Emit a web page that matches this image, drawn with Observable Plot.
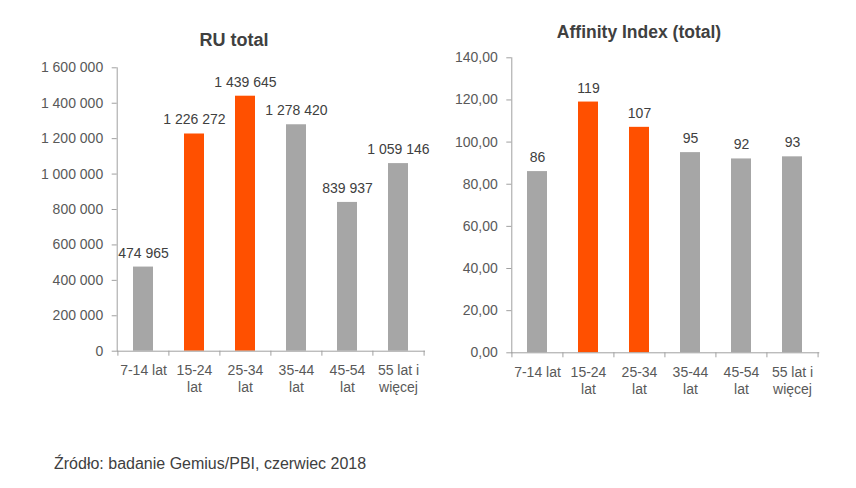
<!DOCTYPE html>
<html><head><meta charset="utf-8">
<script src="https://cdn.jsdelivr.net/npm/d3@7"></script>
<script src="https://cdn.jsdelivr.net/npm/@observablehq/plot@0.6"></script>
<style>
body{margin:0;background:#fff;}
#wrap{position:relative;width:856px;height:488px;font-family:"Liberation Sans",Arial,sans-serif;}
.t{position:absolute;font-weight:bold;color:#404040;white-space:nowrap;transform:translateX(-50%);z-index:2;}
#c1,#c2{position:absolute;top:0;z-index:1;}
#cap{position:absolute;left:54px;top:455px;font-size:16px;line-height:18px;color:#404040;white-space:nowrap;}
</style></head>
<body>
<div id="wrap">
  <div id="c1" style="left:0"></div>
  <div id="c2" style="left:430px"></div>
  <div class="t" style="left:234px;top:31px;font-size:18px;line-height:18px;">RU total</div>
  <div class="t" style="left:639px;top:23px;font-size:17.5px;line-height:18px;">Affinity Index (total)</div>
  <div id="cap">Źródło: badanie Gemius/PBI, czerwiec 2018</div>
</div>
<script>
const categories = ["7-14 lat", "15-24\nlat", "25-34\nlat", "35-44\nlat", "45-54\nlat", "55 lat i\nwięcej"];
const ruTotal = [474965, 1226272, 1439645, 1278420, 839937, 1059146];
const affinity = [86, 119, 107, 95, 92, 93];
const highlighted = [false, true, true, false, false, false];
const ruTicks = [0, 200000, 400000, 600000, 800000, 1000000, 1200000, 1400000, 1600000];
const affTicks = [0, 20, 40, 60, 80, 100, 120, 140];

const ORANGE = "#ff5000", GREY = "#a6a6a6", AXIS = "#a0a0a0", TXT = "#595959";
const loc = d3.formatLocale({decimal: ",", thousands: " ", grouping: [3], currency: ["", ""]});
const fmtInt = loc.format(",d");
const fmt2 = loc.format(".2f");

function chart({values, ticks, domain, tickFmt, labelFmt, width, height, mL, mR, mT, mB}) {
  const data = categories.map((c, i) => ({cat: c, v: values[i], hi: highlighted[i]}));
  const step = (width - mL - mR) / categories.length;
  const style = {fontFamily: "'Liberation Sans', Arial, sans-serif", fontSize: "14px", color: TXT, background: "transparent", overflow: "visible"};
  return Plot.plot({
    width, height, marginLeft: mL, marginRight: mR, marginTop: mT, marginBottom: mB,
    style,
    x: {domain: categories, paddingInner: 0.6, paddingOuter: 0.3, axis: null, label: null},
    y: {domain, axis: null, label: null},
    marks: [
      Plot.barY(data, {x: "cat", y: "v", fill: d => d.hi ? ORANGE : GREY}),
      Plot.frame({anchor: "left", stroke: AXIS}),
      Plot.frame({anchor: "bottom", stroke: AXIS}),
      Plot.axisY({ticks, tickFormat: tickFmt, tickSize: 5, tickPadding: 9, stroke: AXIS, fill: TXT, fontSize: 14, label: null}),
      Plot.axisX({tickSize: 0, tickPadding: 12, fill: TXT, lineHeight: 1.2, fontSize: 14, label: null}),
      Plot.axisX({tickSize: 5, tickFormat: () => "", stroke: AXIS, dx: -step / 2, label: null}),
      Plot.axisX({ticks: [categories[categories.length - 1]], tickSize: 5, tickFormat: () => "", stroke: AXIS, dx: step / 2, label: null}),
      Plot.text(data, {x: "cat", y: "v", text: d => labelFmt(d.v), dy: -14, fill: "#404040", fontSize: 14})
    ]
  });
}

document.getElementById("c1").append(chart({
  values: ruTotal, ticks: ruTicks, domain: [0, 1600000],
  tickFmt: fmtInt, labelFmt: fmtInt,
  width: 440, height: 400, mL: 116.7, mR: 16, mT: 67.3, mB: 49.3
}));
document.getElementById("c2").append(chart({
  values: affinity, ticks: affTicks, domain: [0, 140],
  tickFmt: fmt2, labelFmt: fmtInt,
  width: 426, height: 400, mL: 81.3, mR: 37.7, mT: 57.3, mB: 47.7
}));
</script>
</body></html>
